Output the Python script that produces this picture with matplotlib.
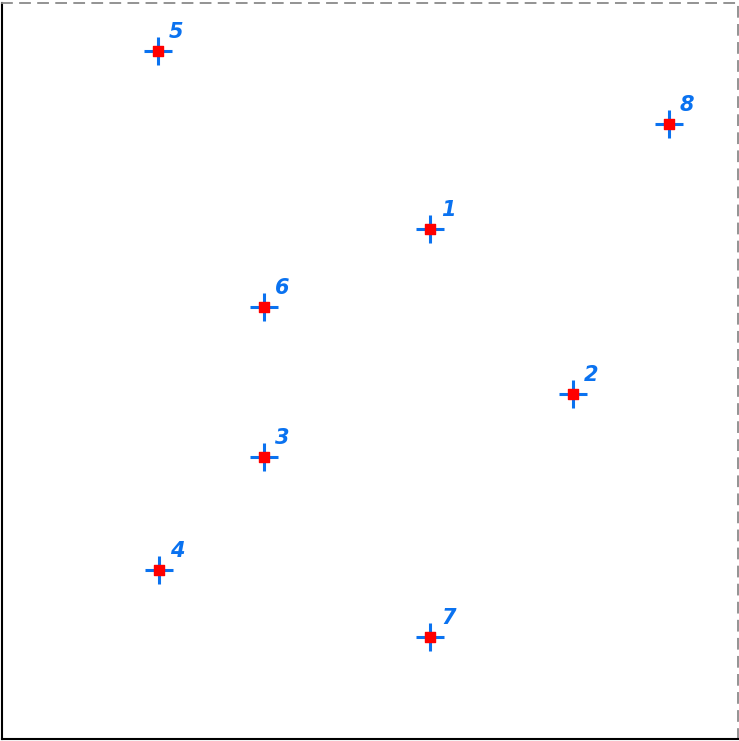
import matplotlib
matplotlib.use("Agg")
import matplotlib.pyplot as plt

# point positions (percent of axes) and labels
labels = ["1", "2", "3", "4", "5", "6", "7", "8"]
xs = [58.2, 77.6, 35.6, 21.3, 21.2, 35.6, 58.2, 90.6]
ys = [69.3, 46.9, 38.3, 23.0, 93.5, 58.7, 13.9, 83.6]

fig = plt.figure(figsize=(7.39, 7.41), dpi=100)
ax = fig.add_axes([2 / 739, 2 / 741, 736 / 739, 736 / 741])
ax.set_xlim(0, 100)
ax.set_ylim(0, 100)
ax.set_xticks([])
ax.set_yticks([])

for s in ["top", "right"]:
    ax.spines[s].set_linestyle((0, (5.5, 4.5)))
    ax.spines[s].set_color("#8a8a8a")
    ax.spines[s].set_linewidth(1.3)
for s in ["left", "bottom"]:
    ax.spines[s].set_color("black")
    ax.spines[s].set_linewidth(1.5)

blue = "#0a72f0"
ax.scatter(xs, ys, marker="+", s=380, color=blue, linewidths=2.2, zorder=2)
ax.scatter(xs, ys, marker="s", s=60, color="red", zorder=3)

for x, y, lab in zip(xs, ys, labels):
    ax.annotate(lab, (x, y), xytext=(8, 6.5), textcoords="offset points",
                color=blue, fontsize=15, fontweight="bold", fontstyle="italic",
                ha="left", va="bottom")

fig.savefig("out.png", dpi=100)
